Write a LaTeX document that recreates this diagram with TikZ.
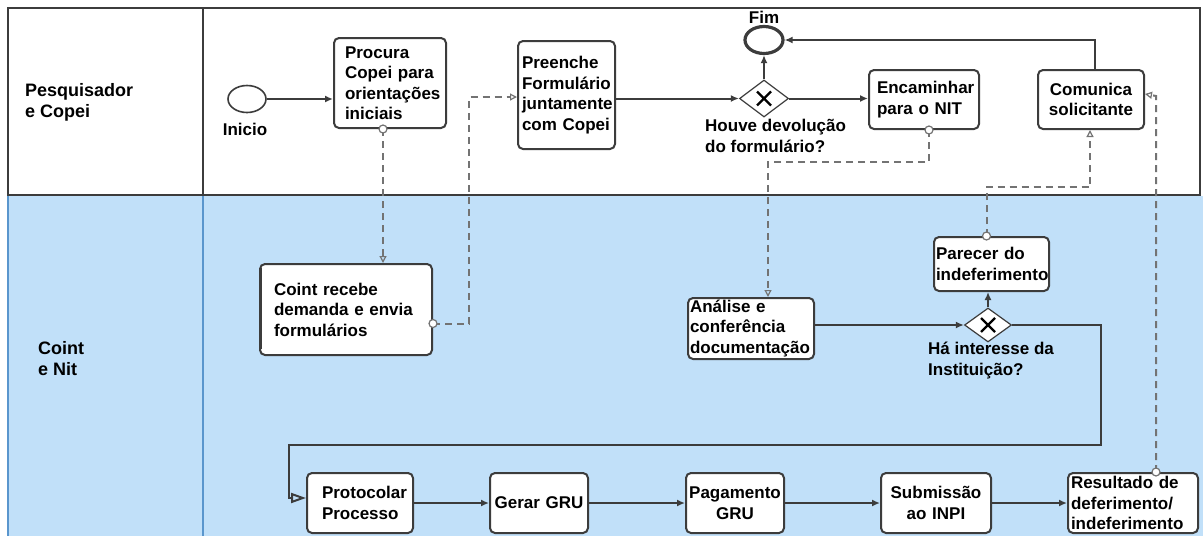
\documentclass[tikz,border=0pt]{standalone}
\usepackage{fontspec}
\setmainfont{Liberation Sans}
\usetikzlibrary{shapes.geometric,arrows.meta,calc}
\hyphenpenalty=10000
\exhyphenpenalty=10000
\definecolor{lanebg}{RGB}{193,224,249}
\definecolor{laneline}{RGB}{90,150,205}
\definecolor{boxline}{RGB}{60,60,60}
\definecolor{msggray}{RGB}{115,115,115}
\tikzset{
  task/.style={draw=boxline, line width=2pt, rounded corners=5pt, fill=white,
    align=left, inner ysep=2pt, font=\bfseries\fontsize{17}{20.5}\selectfont},
  lbl/.style={inner sep=0pt, align=left, font=\bfseries\fontsize{17}{20.5}\selectfont},
  lanelbl/.style={inner sep=0pt, align=left, font=\bfseries\fontsize{18}{21}\selectfont},
  gate/.style={diamond, draw=boxline, line width=1.2pt, fill=white, inner sep=0pt},
  evt/.style={ellipse, draw=boxline, fill=white, inner sep=0pt, minimum width=38pt, minimum height=27pt},
  seq/.style={draw=boxline, line width=2pt, -{Latex[length=8pt,width=7pt]}},
  msg/.style={draw=msggray, line width=2pt, dash pattern=on 7pt off 5pt,
    -{Triangle[open,length=7pt,width=7pt,line width=1.2pt]}},
  msgstart/.style={circle, draw=msggray, line width=1.2pt, fill=white, inner sep=0pt, minimum size=8pt},
}
\begin{document}
\begin{tikzpicture}[x=1pt,y=-1pt]
\useasboundingbox (0,0) rectangle (1203,536);
% lanes
\fill[white] (0,0) rectangle (1203,536);
\fill[lanebg] (8,196) rectangle (1203,536);
\draw[laneline, line width=1.5pt] (8,196) -- (8,536);
\draw[laneline, line width=1.5pt] (203,196) -- (203,536);
\draw[boxline, line width=2pt] (8,8) rectangle (1200,195);
\draw[boxline, line width=2pt] (203,8) -- (203,195);
\node[lanelbl, anchor=west] (lane1) at (25,102) {Pesquisador\\e Copei};
\node[lanelbl, anchor=west] (lane2) at (38,359) {Coint\\e Nit};

% top lane
\node[evt, line width=1.6pt] (start) at (247,99) {};
\node[lbl] (startlab) at (245,129) {Inicio};
\node[task, anchor=north west, minimum height=90pt, inner xsep=11pt, text width=90pt] (procura) at (333,37)
  {Procura\\Copei para\\orientações\\iniciais};
\node[task, anchor=north west, minimum height=108pt, inner xsep=4pt, text width=89pt] (preenche) at (517,40)
  {Preenche\\Formulário\\juntamente\\com Copei};
\node[gate, minimum width=49pt, minimum height=37pt] (gw1) at (764,98.5) {};
\draw[line width=2.4pt] ($(gw1)+(-7,-7)$) -- ($(gw1)+(7,7)$) ($(gw1)+(-7,7)$) -- ($(gw1)+(7,-7)$);
\node[lbl, anchor=north west] (gw1lab) at (705,119) {Houve devolução\\do formulário?};
\node[evt, line width=3.2pt] (fim) at (764,40) {};
\node[lbl] (fimlab) at (764,17) {Fim};
\node[task, anchor=north west, minimum height=59pt, inner xsep=8pt, text width=94pt] (enc) at (868,69)
  {Encaminhar\\para o NIT};
\node[task, anchor=north west, minimum height=59pt, inner xsep=3pt, text width=100pt, align=center] (com) at (1037,69)
  {Comunica\\solicitante};

% bottom lane
\node[task, anchor=north west, minimum height=91pt, inner xsep=14pt, text width=144pt] (cointr) at (259,263)
  {Coint recebe\\demanda e envia\\formulários};
\draw[boxline, line width=3.5pt] (260.5,268) -- (260.5,349);
\node[task, anchor=north west, minimum height=59pt, inner xsep=2pt, text width=122pt] (analise) at (687,297)
  {Análise e\\conferência\\documentação};
\node[gate, minimum width=47pt, minimum height=34pt] (gw2) at (988,325) {};
\draw[line width=2.4pt] ($(gw2)+(-7,-7)$) -- ($(gw2)+(7,7)$) ($(gw2)+(-7,7)$) -- ($(gw2)+(7,-7)$);
\node[lbl, anchor=north west] (gw2lab) at (928,342) {Há interesse da\\Instituição?};
\node[task, anchor=north west, minimum height=54pt, inner xsep=2pt, text width=111pt] (parecer) at (933,236)
  {Parecer do\\indeferimento};
\node[task, anchor=north west, minimum height=60pt, inner xsep=15pt, text width=76pt] (protocolar) at (306,472)
  {Protocolar\\Processo};
\node[task, anchor=north west, minimum height=60pt, inner xsep=2pt, text width=94pt, align=center] (gerar) at (489,472)
  {Gerar GRU};
\node[task, anchor=north west, minimum height=60pt, inner xsep=2pt, text width=94pt, align=center] (pagamento) at (685,472)
  {Pagamento\\GRU};
\node[task, anchor=north west, minimum height=60pt, inner xsep=2pt, text width=106pt, align=center] (submissao) at (880,472)
  {Submissão\\ao INPI};
\node[task, anchor=north west, minimum height=60pt, inner xsep=3pt, text width=124pt] (resultado) at (1067,472)
  {Resultado de\\deferimento/\\indeferimento};

\coordinate (r1) at (1101,445);
\coordinate (r2) at (289,445);

% sequence flows
\draw[seq] (start.east) -- (start.east -| procura.west);
\draw[seq] (preenche.east |- gw1.west) -- (gw1.west);
\draw[seq] (gw1.north) -- (fim.south);
\draw[seq] (gw1.east) -- (gw1.east -| enc.west);
\draw[seq] ([xshift=4pt]com.north) |- (fim.east);
\draw[seq] (analise.east |- gw2.west) -- (gw2.west);
\draw[seq] (gw2.north) -- (gw2.north |- parecer.south);
\draw[draw=boxline, line width=2pt, -{Triangle[open,length=15pt,width=10pt,line width=2pt]}]
  (gw2.east) -| (r1) -- (r2) |- ([yshift=5pt]protocolar.west);
\draw[seq] (protocolar.east) -- (gerar.west);
\draw[seq] (gerar.east) -- (pagamento.west);
\draw[seq] (pagamento.east) -- (submissao.west);
\draw[seq] (submissao.east) -- (resultado.west);

% message flows
\draw[msg] ([xshift=-7pt]procura.south) -- ([xshift=-7pt]procura.south |- cointr.north);
\node[msgstart] (c1) at ([xshift=-7pt]procura.south) {};
\draw[msg] ([yshift=-14pt]cointr.east) -- ++(36,0) |- (preenche.west |- 0,97);
\node[msgstart] (c2) at ([yshift=-14pt]cointr.east) {};
\draw[msg] ([xshift=5pt]enc.south) -- ++(0,32) -| ([xshift=17pt]analise.north);
\node[msgstart] (c3) at ([xshift=5pt]enc.south) {};
\draw[msg] ([xshift=-5pt]parecer.north) -- ++(0,-49) -| ([xshift=-1pt]com.south);
\node[msgstart] (c4) at ([xshift=-5pt]parecer.north) {};
\draw[msg] ([xshift=23pt]resultado.north) -- ++(0,-376) -- (com.east |- 0,94);
\node[msgstart] (c5) at ([xshift=23pt]resultado.north) {};
\end{tikzpicture}
\end{document}
